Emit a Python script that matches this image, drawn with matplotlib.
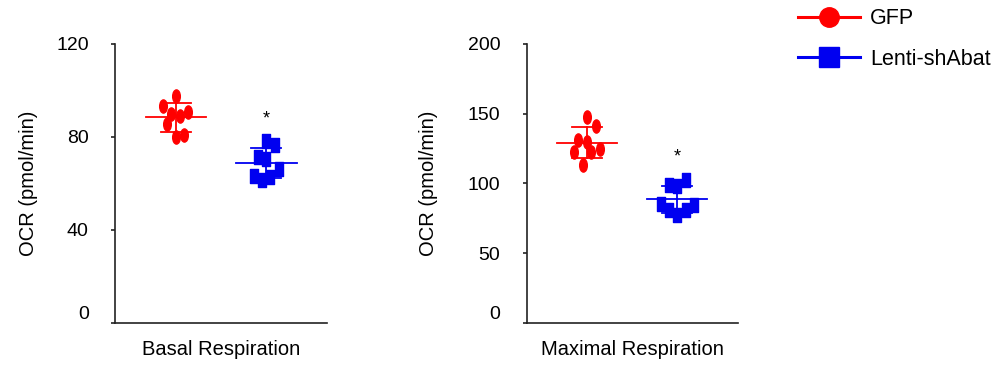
import numpy as np
import matplotlib
matplotlib.use("Agg")
import matplotlib.pyplot as plt
from matplotlib.path import Path
from matplotlib.transforms import Affine2D
from matplotlib.lines import Line2D

plt.rcParams['font.family'] = ['Liberation Sans', 'DejaVu Sans']

groups = ["GFP", "Lenti-shAbat"]
colors = ["#ff0000", "#0000f0"]

# OCR values, pmol/min
basal_gfp = [97.8, 93.5, 90.9, 89.8, 88.9, 85.6, 80.7, 80.1]
basal_shabat = [78.4, 76.4, 71.5, 70.4, 66.1, 63.4, 62.9, 61.4]
maximal_gfp = [147.4, 141.5, 131.4, 129.7, 124.7, 122.6, 122.6, 113.0]
maximal_shabat = [102.5, 98.9, 98.2, 85.5, 84.6, 80.8, 80.8, 77.6]

# horizontal scatter of the dots (beeswarm offsets, in group units)
basal_gfp_jit = [0, -0.144, 0.137, -0.048, 0.044, -0.097, 0.092, 0]
basal_shabat_jit = [0, 0.092, -0.092, 0, 0.144, -0.137, 0.044, -0.048]
maximal_gfp_jit = [0, 0.096, -0.096, 0, 0.14, -0.14, 0.048, -0.044]
maximal_shabat_jit = [0.096, -0.092, 0, -0.185, 0.19, -0.092, 0.092, 0]

panels = [
    ("Basal Respiration", [basal_gfp, basal_shabat], [basal_gfp_jit, basal_shabat_jit],
     [0, 40, 80, 120], (0, 120)),
    ("Maximal Respiration", [maximal_gfp, maximal_shabat], [maximal_gfp_jit, maximal_shabat_jit],
     [0, 50, 100, 150, 200], (0, 200)),
]

# tall ellipse / tall rectangle markers like the original
ellipse = Path.unit_circle().transformed(Affine2D().scale(0.58, 1.0))
rect = Path([(-0.29, -0.5), (0.29, -0.5), (0.29, 0.5), (-0.29, 0.5), (-0.29, -0.5)],
            [Path.MOVETO, Path.LINETO, Path.LINETO, Path.LINETO, Path.CLOSEPOLY])
markers = [ellipse, rect]

fig = plt.figure(figsize=(9.95, 3.65), dpi=100)
axes_pos = [[0.1156, 0.1151, 0.2131, 0.7644], [0.5293, 0.1151, 0.2121, 0.7644]]
label_x = [-0.363, -0.42]

for k, (title, vals, jits, yticks, ylim) in enumerate(panels):
    ax = fig.add_axes(axes_pos[k])
    for i, (v, j) in enumerate(zip(vals, jits)):
        pos = i + 1
        v = np.array(v)
        m = v.mean()
        sd = v.std(ddof=1)
        ax.plot(pos + np.array(j), v, linestyle="none", marker=markers[i], ms=9.5,
                color=colors[i], mec=colors[i], zorder=3)
        ax.plot([pos - 0.333, pos + 0.333], [m, m], color=colors[i], lw=1.3, zorder=2)
        ax.plot([pos - 0.167, pos + 0.167], [m + sd, m + sd], color=colors[i], lw=1.3, zorder=2)
        ax.plot([pos - 0.167, pos + 0.167], [m - sd, m - sd], color=colors[i], lw=1.3, zorder=2)
        ax.plot([pos, pos], [m - sd, m + sd], color=colors[i], lw=1.3, zorder=2)
        if i == 1:
            ax.annotate("*", (pos, m + sd), xytext=(0, 17.5), textcoords="offset points",
                        ha="center", va="baseline", fontsize=13)

    ax.set_xlim(0.33, 2.67)
    ax.set_ylim(*ylim)
    ax.set_yticks(yticks)
    ax.set_xticks([])
    for s in ["top", "right"]:
        ax.spines[s].set_visible(False)
    for s in ["left", "bottom"]:
        ax.spines[s].set_linewidth(1.2)
        ax.spines[s].set_color("#222222")
    ax.tick_params(axis="y", length=3, width=1.2, pad=16, labelsize=14, color="#222222")
    ax.get_yticklabels()[0].set_va("bottom")
    ax.set_xlabel(title, fontsize=14.5, labelpad=12)
    ax.set_ylabel("OCR (pmol/min)", fontsize=14.5)
    ax.yaxis.set_label_coords(label_x[k], 0.5)

handles = [Line2D([], [], color=colors[0], lw=2.2, marker="o", ms=14),
           Line2D([], [], color=colors[1], lw=2.2, marker="s", ms=14)]
fig.legend(handles, groups, loc="upper left", bbox_to_anchor=(0.783, 1.03), frameon=False,
           fontsize=15.5, handlelength=2.84, handletextpad=0.5, labelspacing=0.9)

fig.savefig("out.png", dpi=100)
